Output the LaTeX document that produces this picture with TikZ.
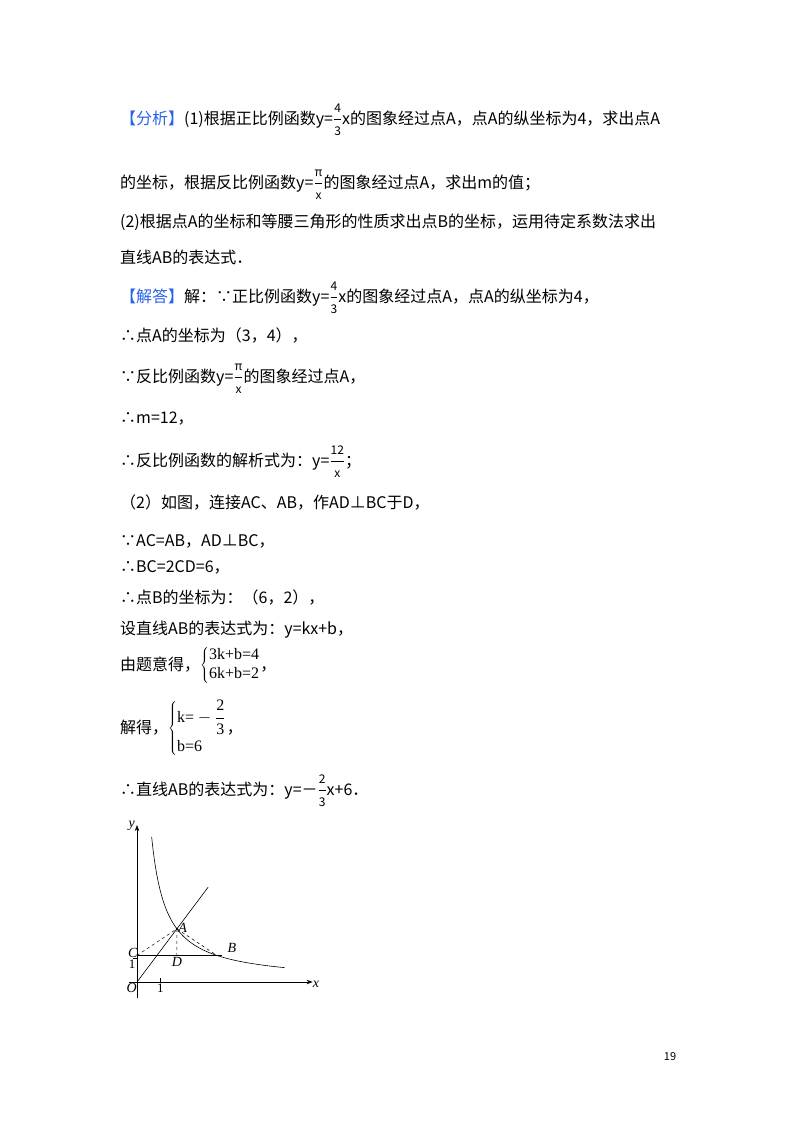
\documentclass[tikz,border=0pt]{standalone}
\usepackage{fontspec}
\usetikzlibrary{arrows.meta}
\setmainfont{Noto Sans CJK SC}
\newfontfamily\serifm{Liberation Serif}
\definecolor{hdblue}{RGB}{40,100,230}
\newcommand\fr[2]{$\displaystyle\frac{\mbox{\fontsize{12}{12}\selectfont #1}}{\mbox{\fontsize{12}{12}\selectfont #2}}$}
\begin{document}
\begin{tikzpicture}[x=1pt,y=-1pt,
  ln/.style={anchor=base west,inner sep=0pt,font=\fontsize{16}{19}\selectfont},
  lab/.style={inner sep=0pt,font=\serifm\itshape\fontsize{14}{14}\selectfont},
  num/.style={inner sep=0pt,font=\serifm\fontsize{13}{13}\selectfont},
  ax/.style={line width=0.7pt,-{Stealth[length=6pt]}}]
\useasboundingbox[fill=white] (0,0) rectangle (800,1132);
\node[ln] (l1) at (120,124) {{\color{hdblue}【分析】}(1)根据正比例函数y=\fr{4}{3}x的图象经过点A，点A的纵坐标为4，求出点A};
\node[ln] (l2) at (120,188) {的坐标，根据反比例函数y=\fr{π}{x}的图象经过点A，求出m的值；};
\node[ln] (l3) at (120,227) {(2)根据点A的坐标和等腰三角形的性质求出点B的坐标，运用待定系数法求出};
\node[ln] (l4) at (120,263) {直线AB的表达式．};
\node[ln] (l5) at (120,302) {{\color{hdblue}【解答】}解：∵正比例函数y=\fr{4}{3}x的图象经过点A，点A的纵坐标为4，};
\node[ln] (l6) at (120,341) {∴点A的坐标为（3，4），};
\node[ln] (l7) at (120,382) {∵反比例函数y=\fr{π}{x}的图象经过点A，};
\node[ln] (l8) at (120,423) {∴m=12，};
\node[ln] (l9) at (120,466) {∴反比例函数的解析式为：y=\fr{12}{x}；};
\node[ln] (l10) at (120,508) {（2）如图，连接AC、AB，作AD⊥BC于D，};
\node[ln] (l11) at (120,546) {∵AC=AB，AD⊥BC，};
\node[ln] (l12) at (120,572) {∴BC=2CD=6，};
\node[ln] (l13) at (120,603) {∴点B的坐标为：（6，2），};
\node[ln] (l14) at (120,634) {设直线AB的表达式为：y=kx+b，};
\node[ln] (l15) at (120,670) {由题意得，$\left\{\begin{array}{@{}l@{}}\mbox{\serifm 3k+b=4}\\ \mbox{\serifm 6k+b=2}\end{array}\right.$，};
\node[ln] (l16) at (120,733) {解得，$\left\{\begin{array}{@{}l@{}}\mbox{\serifm k=}-\displaystyle\frac{\mbox{\serifm 2}}{\mbox{\serifm 3}}\\[10pt] \mbox{\serifm b=6}\end{array}\right.$，};
\node[ln] (l17) at (120,795) {∴直线AB的表达式为：y=－\fr{2}{3}x+6．};
\node[inner sep=0pt,font=\fontsize{11}{11}\selectfont] (pg) at (670,1057) {19};
% graph
\begin{scope}[shift={(137,982)},x=13.3pt,y=13.3pt]
\coordinate (O) at (0,0);
\coordinate (xe) at (13.2,0);
\coordinate (ye) at (0,11.8);
\draw[ax] (-0.6,0) -- (xe);
\draw[ax] (0,-1.2) -- (ye);
\node[lab,anchor=north west] (xl) at (13.2,0.1) {x};
\node[lab,anchor=north east] (yl) at (-0.15,12.1) {y};
\node[lab,anchor=north east] (Ol) at (0,-0.1) {O};
\draw (1.75,0) -- (1.75,0.3);
\node[num,anchor=north] (one) at (1.75,-0.1) {1};
\node[num,anchor=east] (onev) at (-0.1,1.35) {1};
\draw (-0.3,1.8) -- (0,1.8);
\coordinate (A) at (3,4);
\coordinate (C) at (0,2);
\coordinate (D) at (3,2);
\coordinate (B) at (6,2);
\coordinate (E) at (6.4,2);
\coordinate (L) at (5.35,7.13);
\draw[line width=0.6pt] (O) -- (L);
\draw[line width=0.6pt] (C) -- (E);
\draw[line width=0.6pt,domain=1.1:11.1,samples=80] plot (\x,{12/\x});
\draw[dashed,line width=0.5pt] (C) -- (A) -- (D);
\draw[dashed,line width=0.5pt] (A) -- (B);
\fill (A) circle (1.2pt);
\node[lab,anchor=south west] (Al) at (3.1,3.7) {A};
\node[lab,anchor=south west] (Bl) at (6.8,2.2) {B};
\node[lab,anchor=north] (Dl) at (3,1.85) {D};
\node[lab,anchor=south east] (Cl) at (0.05,1.8) {C};
\end{scope}
\end{tikzpicture}
\end{document}
